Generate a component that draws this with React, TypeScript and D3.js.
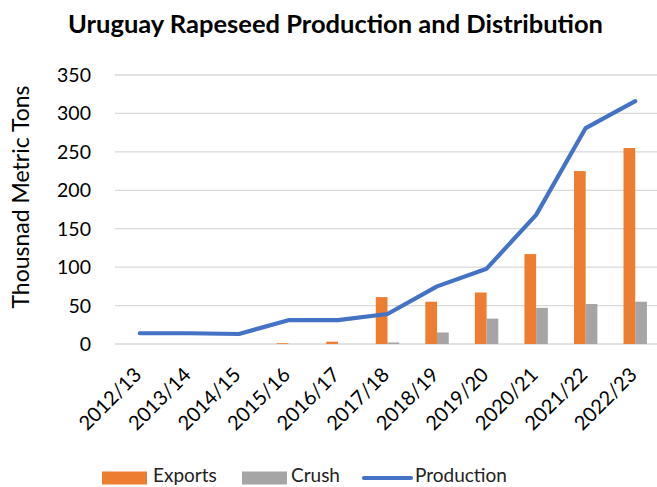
import React, { useEffect, useRef } from 'react'
import * as d3 from 'd3'

const years = ['2012/13', '2013/14', '2014/15', '2015/16', '2016/17', '2017/18', '2018/19', '2019/20', '2020/21', '2021/22', '2022/23']
const exportsVals = [0, 0, 0, 1, 3, 61, 55, 67, 117, 225, 255]
const crushVals = [0, 0, 0, 0, 0, 2, 15, 33, 47, 52, 55]
const productionVals = [14, 14, 13, 31, 31, 39, 75, 98, 168, 281, 316]
const yTicks = [0, 50, 100, 150, 200, 250, 300, 350]

const FONT = 'Lato, "Open Sans", sans-serif'

const App: React.FC = () => {
    const svgRef = useRef<SVGSVGElement | null>(null)

    useEffect(() => {
        if (!svgRef.current) return
        const width = 657
        const height = 487
        const margin = { top: 75, right: -3, bottom: 143, left: 115 }

        const svg = d3.select(svgRef.current)
        svg.selectAll('*').remove()

        const x = d3
            .scaleBand<string>()
            .domain(years)
            .range([margin.left, width - margin.right])

        const y = d3
            .scaleLinear()
            .domain([0, 350])
            .range([height - margin.bottom, margin.top])

        // 그리드
        svg.append('g')
            .selectAll('line')
            .data(yTicks)
            .join('line')
            .attr('x1', margin.left)
            .attr('x2', width)
            .attr('y1', (d) => y(d))
            .attr('y2', (d) => y(d))
            .attr('stroke', '#d9d9d9')
            .attr('stroke-width', 1.3)

        // y축 라벨
        svg.append('g')
            .selectAll('text')
            .data(yTicks)
            .join('text')
            .attr('x', 91)
            .attr('y', (d) => y(d))
            .attr('dy', '0.36em')
            .attr('text-anchor', 'end')
            .attr('font-family', FONT)
            .attr('font-size', 19.5)
            .attr('fill', '#000')
            .text((d) => d)

        // 막대
        const barW = 11.7
        const bars = svg.append('g')
        bars.selectAll('rect.exp')
            .data(years)
            .join('rect')
            .attr('class', 'exp')
            .attr('x', (d) => x(d)! + x.bandwidth() / 2 - barW)
            .attr('width', barW)
            .attr('y', (_, i) => y(exportsVals[i]))
            .attr('height', (_, i) => y(0) - y(exportsVals[i]))
            .attr('fill', '#ed7d31')
        bars.selectAll('rect.cr')
            .data(years)
            .join('rect')
            .attr('class', 'cr')
            .attr('x', (d) => x(d)! + x.bandwidth() / 2)
            .attr('width', barW)
            .attr('y', (_, i) => y(crushVals[i]))
            .attr('height', (_, i) => y(0) - y(crushVals[i]))
            .attr('fill', '#a5a5a5')

        // 라인
        const line = d3
            .line<number>()
            .x((_, i) => x(years[i])! + x.bandwidth() / 2)
            .y((d) => y(d))
        svg.append('path')
            .datum(productionVals)
            .attr('fill', 'none')
            .attr('stroke', '#4472c4')
            .attr('stroke-width', 4.2)
            .attr('stroke-linecap', 'round')
            .attr('stroke-linejoin', 'round')
            .attr('d', line)

        // x축 라벨
        svg.append('g')
            .selectAll('text')
            .data(years)
            .join('text')
            .attr('transform', (d) => `translate(${x(d)! + x.bandwidth() / 2 + 3},${y(0) + 32}) rotate(-45)`)
            .attr('text-anchor', 'end')
            .attr('font-family', FONT)
            .attr('font-size', 20)
            .attr('fill', '#000')
            .text((d) => d)

        // 제목
        svg.append('text')
            .attr('x', 335.5)
            .attr('y', 33)
            .attr('text-anchor', 'middle')
            .attr('font-family', FONT)
            .attr('font-weight', 'bold')
            .attr('font-size', 25.5)
            .attr('fill', '#000')
            .text('Uruguay Rapeseed Production and Distribution')

        svg.append('text')
            .attr('transform', `translate(29,197) rotate(-90)`)
            .attr('text-anchor', 'middle')
            .attr('font-family', FONT)
            .attr('font-size', 23)
            .attr('fill', '#000')
            .text('Thousnad Metric Tons')

        // 범례
        const ly = 478
        const legend = svg.append('g').attr('font-family', FONT).attr('font-size', 19).attr('fill', '#222')
        legend.append('rect').attr('x', 102).attr('y', ly - 6.5).attr('width', 45).attr('height', 13).attr('fill', '#ed7d31')
        legend.append('text').attr('x', 153).attr('y', 482).text('Exports')
        legend.append('rect').attr('x', 242).attr('y', ly - 6.5).attr('width', 45).attr('height', 13).attr('fill', '#a5a5a5')
        legend.append('text').attr('x', 291).attr('y', 482).text('Crush')
        legend.append('line').attr('x1', 364).attr('x2', 411).attr('y1', ly).attr('y2', ly)
            .attr('stroke', '#4472c4').attr('stroke-width', 4.2).attr('stroke-linecap', 'round')
        legend.append('text').attr('x', 415).attr('y', 482).text('Production')
    }, [])

    return (
        <svg
            ref={svgRef}
            width={657}
            height={487}
            style={{ position: 'absolute', left: 0, top: 0, background: '#fff' }}
        ></svg>
    )
}

export default App
